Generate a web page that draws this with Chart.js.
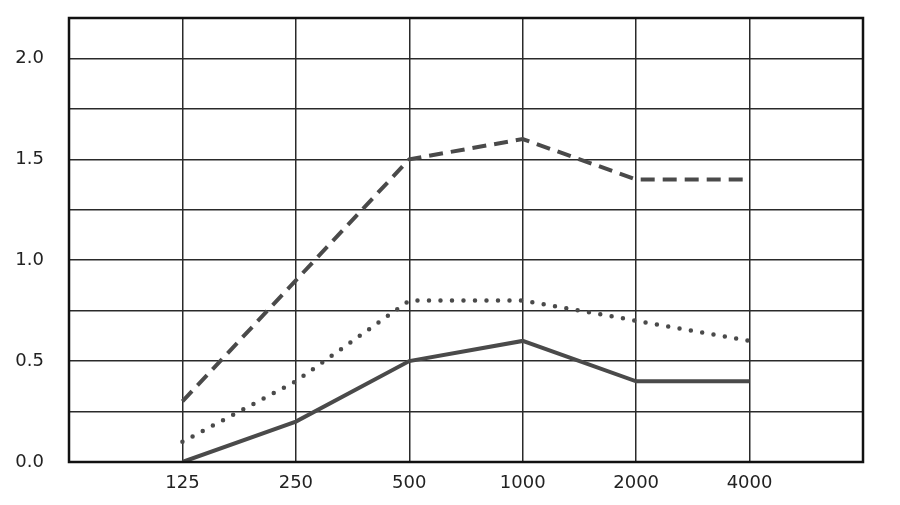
<!DOCTYPE html>
<html>
<head>
<meta charset="utf-8">
<script src="https://cdn.jsdelivr.net/npm/chart.js@4/dist/chart.umd.min.js"></script>
<style>
  html, body { margin: 0; padding: 0; background: #fff; }
  #wrap { width: 900px; height: 505px; }
</style>
</head>
<body>
<div id="wrap"><canvas id="c" width="900" height="505"></canvas></div>
<script>
// frequency bands (Hz) and the three curves
const bands = ['125', '250', '500', '1000', '2000', '4000'];
const dashedVals = [0.3, 0.9, 1.5, 1.6, 1.4, 1.4];
const dottedVals = [0.1, 0.4, 0.8, 0.8, 0.7, 0.6];
const solidVals = [0.0, 0.2, 0.5, 0.6, 0.4, 0.4];
const yLabels = [0, 0.5, 1.0, 1.5, 2.0];

const lineColor = '#4a4a4a';
const gridColor = '#2a2a2a';

// bands sit on x = 1..6, leaving an empty column at each side
const toPoints = vals => vals.map((v, i) => ({ x: i + 1, y: v }));

// thick frame round the plot area
const framePlugin = {
  id: 'frame',
  afterDraw(chart) {
    const { ctx, chartArea: a } = chart;
    ctx.save();
    ctx.strokeStyle = '#111';
    ctx.lineWidth = 2.5;
    ctx.strokeRect(a.left, a.top, a.right - a.left, a.bottom - a.top);
    ctx.restore();
  }
};

const common = { fill: false, pointRadius: 0, borderColor: lineColor, tension: 0 };
const tickFont = { family: 'DejaVu Sans', size: 18 };

new Chart(document.getElementById('c').getContext('2d'), {
  type: 'line',
  data: {
    datasets: [
      Object.assign({ data: toPoints(dashedVals), borderWidth: 4, borderDash: [14, 8] }, common),
      Object.assign({ data: toPoints(dottedVals), borderWidth: 4.5, borderDash: [0, 11.5], borderCapStyle: 'round' }, common),
      Object.assign({ data: toPoints(solidVals), borderWidth: 4 }, common),
    ]
  },
  options: {
    responsive: false,
    animation: false,
    layout: { padding: { top: 18, right: 37, left: 0, bottom: 0 } },
    plugins: { legend: { display: false }, tooltip: { enabled: false } },
    scales: {
      x: {
        type: 'linear',
        min: 0,
        max: 7,
        ticks: {
          stepSize: 1,
          padding: 11,
          color: '#222',
          font: tickFont,
          callback: v => bands[v - 1] || ''
        },
        grid: { color: gridColor, lineWidth: 1.5, drawTicks: false },
        border: { display: false },
        afterFit: s => { s.height = 43; s.paddingLeft = 0; s.paddingRight = 0; }
      },
      y: {
        min: 0,
        max: 2.2,
        ticks: {
          stepSize: 0.25,
          padding: 25,
          color: '#222',
          font: tickFont,
          callback: v => yLabels.some(l => Math.abs(l - v) < 1e-6) ? v.toFixed(1) : ''
        },
        grid: { color: gridColor, lineWidth: 1.5, drawTicks: false },
        border: { display: false },
        afterFit: s => { s.width = 69; s.paddingTop = 0; s.paddingBottom = 0; }
      }
    }
  },
  plugins: [framePlugin]
});
</script>
</body>
</html>
